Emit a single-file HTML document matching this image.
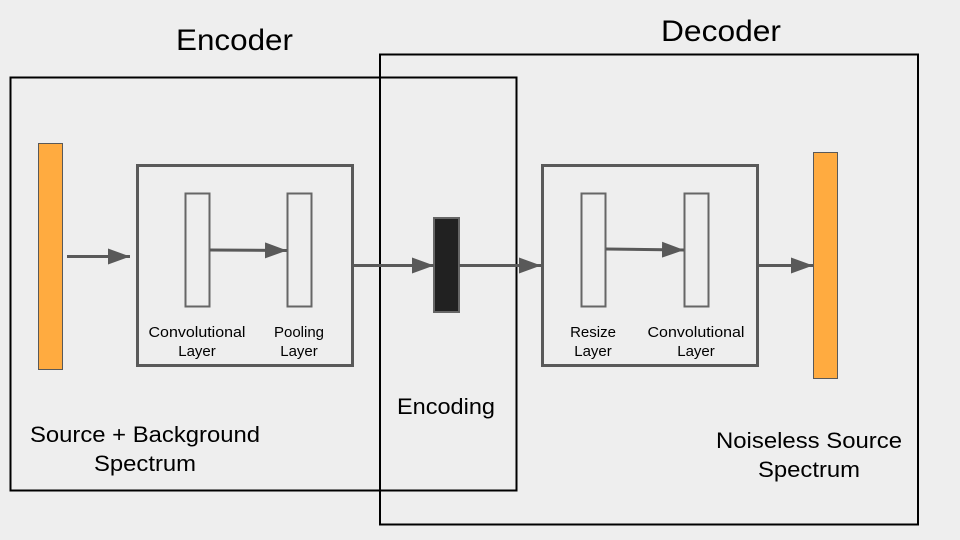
<!DOCTYPE html>
<html><head><style>
html,body{margin:0;padding:0;background:#eeeeee;}
svg{display:block;}
text{font-family:"Liberation Sans",Arial,sans-serif;fill:#000;}
</style></head><body>
<svg width="960" height="540" viewBox="0 0 960 540" xmlns="http://www.w3.org/2000/svg">
<defs>
<marker id="b" markerWidth="22" markerHeight="16" refX="22" refY="8" orient="auto" markerUnits="userSpaceOnUse"><path d="M0,0 L22,8 L0,16 z" fill="#595959"/></marker></defs>
<rect width="960" height="540" fill="#eeeeee"/>
<rect x="10.5" y="77.5" width="506" height="413" fill="none" stroke="#000" stroke-width="2"/>
<rect x="380" y="54.5" width="538" height="470" fill="none" stroke="#000" stroke-width="2"/>
<text x="176" y="50" font-size="30" textLength="117" lengthAdjust="spacingAndGlyphs">Encoder</text>
<text x="661" y="41" font-size="30" textLength="120" lengthAdjust="spacingAndGlyphs">Decoder</text>
<rect x="38.5" y="143.5" width="24" height="226" fill="#ffab40" stroke="#595959" stroke-width="1"/>
<rect x="813.5" y="152.5" width="24" height="226" fill="#ffab40" stroke="#595959" stroke-width="1"/>
<rect x="137.5" y="165.5" width="215" height="200" fill="none" stroke="#595959" stroke-width="3"/>
<rect x="542.5" y="165.5" width="215" height="200" fill="none" stroke="#595959" stroke-width="3"/>
<rect x="185.5" y="193.5" width="24" height="113" fill="none" stroke="#666" stroke-width="2"/>
<rect x="287.5" y="193.5" width="24" height="113" fill="none" stroke="#666" stroke-width="2"/>
<rect x="581.5" y="193.5" width="24" height="113" fill="none" stroke="#666" stroke-width="2"/>
<rect x="684.5" y="193.5" width="24" height="113" fill="none" stroke="#666" stroke-width="2"/>
<rect x="434" y="218" width="25" height="94" fill="#212121" stroke="#666" stroke-width="2"/>
<g stroke="#595959" stroke-width="3" fill="none">
<line x1="67" y1="256.5" x2="130" y2="256.5" marker-end="url(#b)"/>
<line x1="210" y1="250" x2="287" y2="250.5" marker-end="url(#b)"/>
<line x1="353" y1="265.5" x2="434" y2="265.5" marker-end="url(#b)"/>
<line x1="459" y1="265.5" x2="541" y2="265.5" marker-end="url(#b)"/>
<line x1="606" y1="249" x2="684" y2="250" marker-end="url(#b)"/>
<line x1="758" y1="265.5" x2="813" y2="265.5" marker-end="url(#b)"/>
</g>
<g font-size="15" text-anchor="middle">
<text x="197" y="337" textLength="97" lengthAdjust="spacingAndGlyphs">Convolutional</text><text x="197" y="356">Layer</text>
<text x="299" y="337">Pooling</text><text x="299" y="356">Layer</text>
<text x="593" y="337">Resize</text><text x="593" y="356">Layer</text>
<text x="696" y="337" textLength="97" lengthAdjust="spacingAndGlyphs">Convolutional</text><text x="696" y="356">Layer</text>
</g>
<g font-size="22" text-anchor="middle">
<text x="446" y="414" textLength="98" lengthAdjust="spacingAndGlyphs">Encoding</text>
<text x="145" y="442" textLength="230" lengthAdjust="spacingAndGlyphs">Source + Background</text>
<text x="145" y="471" textLength="102" lengthAdjust="spacingAndGlyphs">Spectrum</text>
<text x="809" y="448" textLength="186" lengthAdjust="spacingAndGlyphs">Noiseless Source</text>
<text x="809" y="477" textLength="102" lengthAdjust="spacingAndGlyphs">Spectrum</text>
</g>
</svg>
</body></html>
